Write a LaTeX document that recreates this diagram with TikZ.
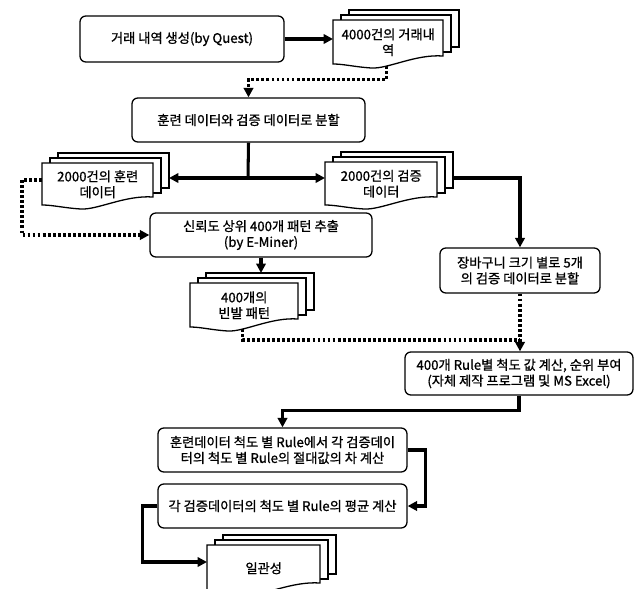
\documentclass[tikz,border=0pt]{standalone}
\usepackage{fontspec}
\setmainfont{Noto Sans CJK KR}
\newfontfamily\krfont{Noto Sans CJK KR}[FakeBold=1.0]
\usetikzlibrary{arrows.meta,calc}
\newcommand\upx{0.03cm}
\tikzset{
  boxline/.style={draw=black, line width=1.1pt},
  txt/.style={align=center, inner sep=0pt, font=\krfont\fontsize{11.3}{13.5}\selectfont},
  pbox/.style={boxline, txt, rounded corners=5pt, fill=white},
  flow/.style={line width=2.6pt, -{Triangle[length=8pt,width=8pt]}},
  link/.style={line width=2.6pt},
  twoway/.style={line width=2.6pt, {Triangle[length=8pt,width=8pt]}-{Triangle[length=8pt,width=8pt]}},
  dotline/.style={line width=2.6pt, dash pattern=on 2.4pt off 1.9pt},
  dotflow/.style={dotline, -{Triangle[length=8pt,width=8pt]}},
}
\newcommand\docnode[6]{%
  \begin{scope}[shift={(#2,#3)}]
    \draw[boxline,fill=white] (16,-10) rectangle (#4+16,#5-17);
    \draw[boxline,fill=white] (8,-5) rectangle (#4+8,#5-12);
    \draw[boxline,fill=white] (0,0) -- (#4,0) -- (#4,#5-8)
      .. controls (0.75*#4,#5-10) and (0.5*#4,#5+5) .. (0.35*#4,#5+4)
      .. controls (0.2*#4,#5+3) and (0.1*#4,#5) .. (0,#5) -- cycle;
    \node[txt, minimum width=#4*\upx, minimum height=#5*\upx, anchor=north west] (#1) at (0,0) {#6};
    \coordinate (#1-b) at (0.49*#4,#5+2);
  \end{scope}}
\begin{document}
\begin{tikzpicture}[x=0.03cm,y=-0.03cm]
\useasboundingbox[fill=white] (0,0) rectangle (634,589);

% process boxes
\node[pbox, minimum width=204*\upx, minimum height=46*\upx] (b1) at (182,39) {거래 내역 생성(by Quest)};
\node[pbox, minimum width=233*\upx, minimum height=44*\upx] (b2) at (248.5,120) {훈련 데이터와 검증 데이터로 분할};
\node[pbox, minimum width=222*\upx, minimum height=44*\upx] (b3) at (261,235) {신뢰도 상위 400개 패턴 추출\\(by E-Miner)};
\node[pbox, minimum width=160*\upx, minimum height=45*\upx] (b4) at (520,270.5) {장바구니 크기 별로 5개\\의 검증 데이터로 분할};
\node[pbox, minimum width=228*\upx, minimum height=43*\upx] (b5) at (519,373.5) {400개 Rule별 척도 값 계산, 순위 부여\\(자체 제작 프로그램 및 MS Excel)};
\node[pbox, minimum width=249*\upx, minimum height=44*\upx] (b6) at (282.5,450) {훈련데이터 척도 별 Rule에서 각 검증데이\\터의 척도 별 Rule의 절대값의 차 계산};
\node[pbox, minimum width=249*\upx, minimum height=44*\upx] (b7) at (282.5,506) {각 검증데이터의 척도 별 Rule의 평균 계산};

% documents
\docnode{d1}{333}{20}{110}{44}{4000건의 거래내\\역}
\docnode{dL}{42}{163}{111}{42}{2000건의 훈련\\데이터}
\docnode{dR}{325}{162}{112}{43}{2000건의 검증\\데이터}
\docnode{dP}{190}{283}{108}{44}{400개의\\빈발 패턴}
\docnode{dC}{207}{545}{113}{46}{일관성}

% connector end points
\coordinate (j2) at (248,178);
\coordinate (dL-r) at (169,178);
\coordinate (dR-l) at (325,178);
\coordinate (dR-r) at (453,178);
\coordinate (dL-l) at (42,180);
\coordinate (dP-t) at (262,273);
\coordinate (j3) at (520,340);
\coordinate (dC-l) at (207,562);

% connectors
\draw[flow] (b1.east) -- (b1.east -| d1.west);
\draw[dotflow] (d1-b) |- ($(b2.north)+(0,-18)$) -- (b2.north);
\draw[link] (b2.south) -- (j2);
\draw[twoway] (dL-r) -- (dR-l);
\draw[flow] (dR-r) -| (b4.north);
\draw[dotflow] (dL-l) -- ++(-20,0) |- (b3.west);
\draw[flow] (b3.south) -- (b3.south |- dP-t);
\draw[dotflow] (b4.south) -- (b4.south |- b5.north);
\draw[dotline] (dP-b) |- (j3);
\draw[flow] (b5.south) -- ++(0,15) -| (b6.north);
\draw[flow] (b6.east) -- ++(18,0) |- (b7.east);
\draw[flow] (b7.west) -- ++(-15,0) |- (dC-l);
\end{tikzpicture}
\end{document}
